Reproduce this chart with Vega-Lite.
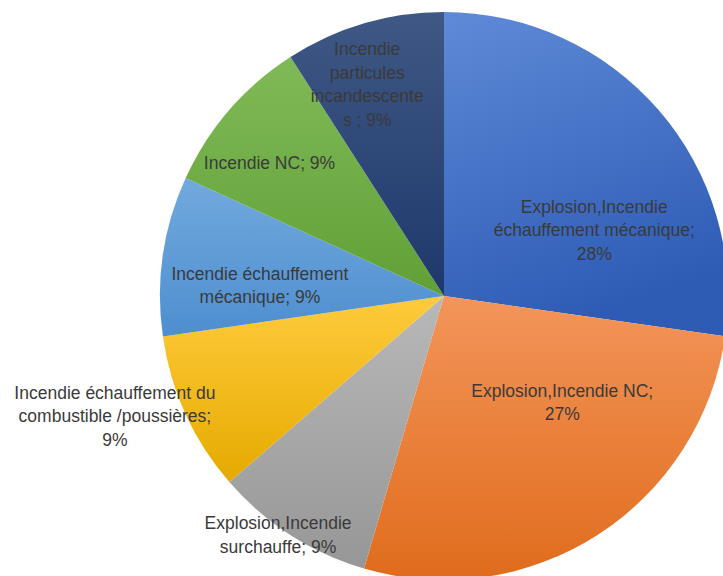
{
  "$schema": "https://vega.github.io/schema/vega-lite/v6.json",
  "width": 888,
  "height": 592,
  "autosize": {"type": "none"},
  "padding": 0,
  "background": "white",
  "view": {"stroke": null},
  "config": {"text": {"font": "Liberation Sans", "fontSize": 17.5, "color": "#3a3a3a", "lineBreak": "\n", "lineHeight": 23.5, "align": "center", "baseline": "middle"}},
  "data": {"values": [
    {"rank": 1, "cat": "Explosion,Incendie échauffement mécanique", "label": "Explosion,Incendie\néchauffement mécanique;\n28%", "value": 3},
    {"rank": 2, "cat": "Explosion,Incendie NC", "label": "Explosion,Incendie NC;\n27%", "value": 3},
    {"rank": 3, "cat": "Explosion,Incendie surchauffe", "label": "Explosion,Incendie\nsurchauffe; 9%", "value": 1},
    {"rank": 4, "cat": "Incendie échauffement du combustible /poussières", "label": "Incendie échauffement du\ncombustible /poussières;\n9%", "value": 1},
    {"rank": 5, "cat": "Incendie échauffement mécanique", "label": "Incendie échauffement\nmécanique; 9%", "value": 1},
    {"rank": 6, "cat": "Incendie NC", "label": "Incendie NC; 9%", "value": 1},
    {"rank": 7, "cat": "Incendie particules incandescentes", "label": "Incendie\nparticules\nincandescente\ns ; 9%", "value": 1}
  ]},
  "encoding": {
    "theta": {"field": "value", "type": "quantitative", "stack": true},
    "order": {"field": "rank", "type": "quantitative"},
    "detail": {"field": "cat", "type": "nominal"}
  },
  "layer": [
    {
      "mark": {"type": "arc", "outerRadius": 284},
      "encoding": {
        "color": {
          "condition": [
            {"test": "datum.rank == 1", "value": {"gradient": "linear", "x1": 0, "y1": 0, "x2": 0.3, "y2": 1, "stops": [{"offset": 0, "color": "#5F8AD8"}, {"offset": 1, "color": "#2E5CB5"}]}},
            {"test": "datum.rank == 2", "value": {"gradient": "linear", "x1": 0, "y1": 0, "x2": 0, "y2": 1, "stops": [{"offset": 0, "color": "#F3955A"}, {"offset": 1, "color": "#E06C1C"}]}},
            {"test": "datum.rank == 3", "value": {"gradient": "linear", "x1": 0, "y1": 0, "x2": 0, "y2": 1, "stops": [{"offset": 0, "color": "#B8B8B8"}, {"offset": 1, "color": "#979797"}]}},
            {"test": "datum.rank == 4", "value": {"gradient": "linear", "x1": 0, "y1": 0, "x2": 0, "y2": 1, "stops": [{"offset": 0, "color": "#FFCB3C"}, {"offset": 1, "color": "#E5AA00"}]}},
            {"test": "datum.rank == 5", "value": {"gradient": "linear", "x1": 0, "y1": 0, "x2": 0, "y2": 1, "stops": [{"offset": 0, "color": "#72A9DE"}, {"offset": 1, "color": "#4E8ECF"}]}},
            {"test": "datum.rank == 6", "value": {"gradient": "linear", "x1": 0, "y1": 0, "x2": 0, "y2": 1, "stops": [{"offset": 0, "color": "#80BA58"}, {"offset": 1, "color": "#60A036"}]}},
            {"test": "datum.rank == 7", "value": {"gradient": "linear", "x1": 0, "y1": 0, "x2": 0, "y2": 1, "stops": [{"offset": 0, "color": "#3F5885"}, {"offset": 1, "color": "#1E386B"}]}}
          ],
          "value": "#4472C4"
        }
      }
    },
    {"mark": {"type": "text", "radius": 167, "dx": 24, "dy": 21}, "encoding": {"text": {"condition": {"test": "datum.rank == 1", "field": "label"}, "value": ""}}},
    {"mark": {"type": "text", "radius": 154, "dx": 35, "dy": -34}, "encoding": {"text": {"condition": {"test": "datum.rank == 2", "field": "label"}, "value": ""}}},
    {"mark": {"type": "text", "radius": 294, "dx": -7, "dy": -19}, "encoding": {"text": {"condition": {"test": "datum.rank == 3", "field": "label"}, "value": ""}}},
    {"mark": {"type": "text", "radius": 353, "dx": -8, "dy": -49}, "encoding": {"text": {"condition": {"test": "datum.rank == 4", "field": "label"}, "value": ""}}},
    {"mark": {"type": "text", "radius": 184, "dx": -2, "dy": 5}, "encoding": {"text": {"condition": {"test": "datum.rank == 5", "field": "label"}, "value": ""}}},
    {"mark": {"type": "text", "radius": 219, "dx": -9, "dy": 11}, "encoding": {"text": {"condition": {"test": "datum.rank == 6", "field": "label"}, "value": ""}}},
    {"mark": {"type": "text", "radius": 230, "dx": -12, "dy": -25}, "encoding": {"text": {"condition": {"test": "datum.rank == 7", "field": "label"}, "value": ""}}}
  ]
}
